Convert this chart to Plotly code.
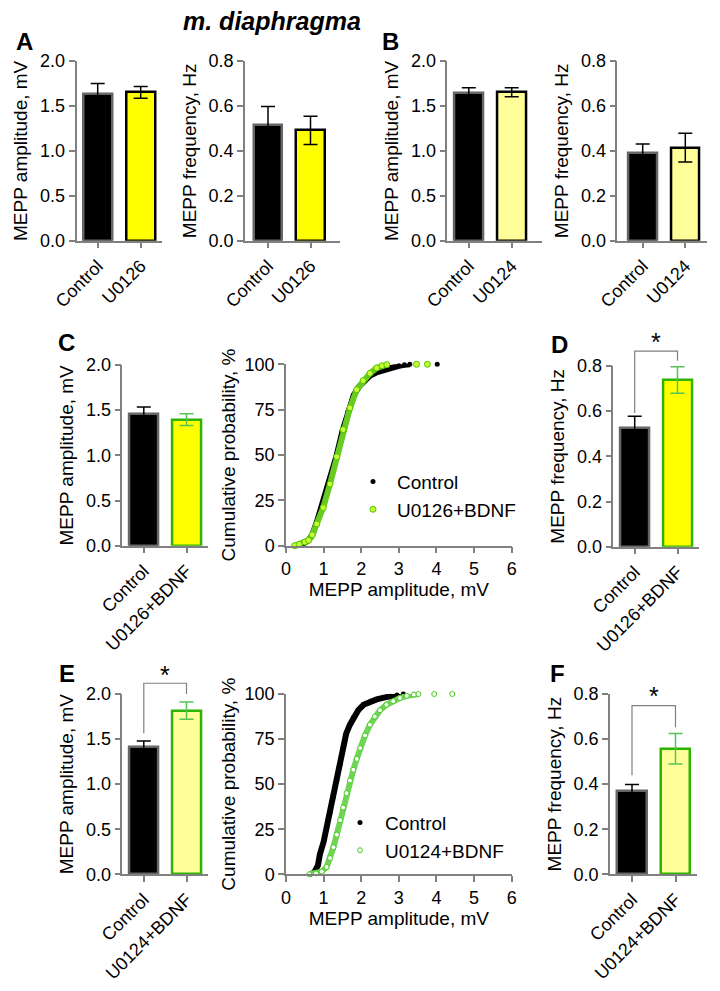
import plotly.graph_objects as go

W, H = 720, 991
OFF = 8  # page body margin in the browser
FONT = "Liberation Sans, Arial, sans-serif"
GRAY = "#808080"
YEL = "#FFFF00"
LYEL = "#FFFF99"
GRN = "#2DB400"
GRN_ERR = "#55C455"

# ---------------- data ----------------
a_groups = ["Control", "U0126"]
a_amp = [1.63, 1.65]
a_amp_err = [0.12, 0.065]
a_freq = [0.517, 0.491]
a_freq_err = [0.080, 0.063]

b_groups = ["Control", "U0124"]
b_amp = [1.648, 1.652]
b_amp_err = [0.055, 0.050]
b_freq = [0.389, 0.414]
b_freq_err = [0.042, 0.064]

c_groups = ["Control", "U0126+BDNF"]
c_amp = [1.461, 1.395]
c_amp_err = [0.074, 0.065]
d_freq = [0.524, 0.738]
d_freq_err = [0.053, 0.059]

e_groups = ["Control", "U0124+BDNF"]
e_amp = [1.415, 1.815]
e_amp_err = [0.064, 0.095]
f_freq = [0.370, 0.557]
f_freq_err = [0.029, 0.068]

# cumulative distributions (MEPP amplitude mV, cumulative %)
c_ctrl_x = [0.30, 0.45, 0.60, 0.70, 0.82, 0.95, 1.10, 1.20, 1.35, 1.50, 1.65, 1.80, 1.95, 2.10, 2.25, 2.40, 2.60, 2.80, 3.00, 3.15, 3.29]
c_ctrl_y = [0, 1, 3, 6, 13, 22, 31, 38, 50, 63, 74, 83, 88, 91.5, 94, 95.5, 97, 98.3, 99.2, 99.7, 100]
c_ctrl_out_x = [4.02]
c_ctrl_out_y = [100]
c_trt_x = [0.23, 0.35, 0.50, 0.60, 0.70, 0.82, 0.99, 1.17, 1.35, 1.52, 1.70, 1.88, 2.05, 2.23, 2.41, 2.55, 2.68]
c_trt_y = [0, 0.8, 2, 3, 6, 12, 21, 34, 49, 64, 76, 86, 91, 95, 98, 99.2, 99.8]
c_trt_out_x = [3.47, 3.76]
c_trt_out_y = [100, 100]

e_ctrl_x = [0.65, 0.75, 0.85, 0.90, 1.00, 1.08, 1.17, 1.26, 1.35, 1.44, 1.52, 1.60, 1.70, 1.79, 1.92, 2.06, 2.25, 2.41, 2.60, 2.77, 2.95, 3.12]
e_ctrl_y = [0, 1, 5, 11, 18, 26, 34, 43, 52, 61, 70, 78, 83, 87, 91, 94, 96, 97, 98, 98.7, 99.4, 100]
e_trt_x = [0.62, 0.80, 0.95, 1.08, 1.17, 1.26, 1.35, 1.44, 1.52, 1.61, 1.70, 1.79, 1.88, 1.97, 2.10, 2.23, 2.36, 2.50, 2.67, 2.85, 3.03, 3.21, 3.40, 3.52]
e_trt_y = [0, 0.5, 1.5, 4, 9, 15, 22, 30, 37, 45, 52, 58, 64, 70, 77, 83, 87.5, 91, 94, 96, 97.8, 99, 99.7, 100]
e_trt_out_x = [3.94, 4.42]
e_trt_out_y = [100, 100]

cum_xticks = [0, 1, 2, 3, 4, 5, 6]
cum_yticks = [0, 25, 50, 75, 100]

# significance brackets: [left leg bottom, top, right leg bottom, star y]
d_bracket = [0.592, 0.866, 0.823, 0.905]
e_bracket = [1.564, 2.119, 2.0, 2.21]
f_bracket = [0.44, 0.748, 0.652, 0.79]

# ---------------- layout helpers (page pixels -> paper fractions) ----------------
def fx(px):
    return (px - OFF) / W

def fy(py):
    return 1 - (py - OFF) / H

def dom_x(p0, p1):
    return [fx(p0), fx(p1)]

def dom_y(ptop, pbot):
    return [fy(pbot), fy(ptop)]

def cat_range(xs, xe, c0, c1):
    u = c1 - c0
    return [(xs - c0) / u, 1 + (xe - c1) / u]

fig = go.Figure()
layout = dict(
    width=W, height=H, autosize=False,
    margin=dict(l=0, r=0, t=0, b=0, pad=0, autoexpand=False),
    paper_bgcolor="white", plot_bgcolor="white",
    font=dict(family=FONT, size=18, color="black"),
    showlegend=True,
    bargap=0,
)

axis_common = dict(showline=True, linecolor=GRAY, linewidth=1.5, ticks="outside",
                   tickcolor=GRAY, ticklen=6, tickwidth=1.5, showgrid=False,
                   zeroline=False, automargin=False, tickfont=dict(size=18, family=FONT))

bar_panels = [
    dict(n=1, cats=a_groups, vals=a_amp, errs=a_amp_err, ymax=2.0, dtick=0.5,
         title="MEPP amplitude, mV", fill=["#000000", YEL], line=["#666666", "#000000"],
         ecol=["#000000", "#000000"], box=(76.5, 162, 97.7, 140.7, 61, 240.7)),
    dict(n=2, cats=a_groups, vals=a_freq, errs=a_freq_err, ymax=0.8, dtick=0.2,
         title="MEPP frequency, Hz", fill=["#000000", YEL], line=["#666666", "#000000"],
         ecol=["#000000", "#000000"], box=(245, 340, 268, 310.5, 61, 240.7)),
    dict(n=3, cats=b_groups, vals=b_amp, errs=b_amp_err, ymax=2.0, dtick=0.5,
         title="MEPP amplitude, mV", fill=["#000000", LYEL], line=["#666666", "#000000"],
         ecol=["#000000", "#000000"], box=(447.3, 541.7, 468.8, 511.7, 61, 240.7)),
    dict(n=4, cats=b_groups, vals=b_freq, errs=b_freq_err, ymax=0.8, dtick=0.2,
         title="MEPP frequency, Hz", fill=["#000000", LYEL], line=["#666666", "#000000"],
         ecol=["#000000", "#000000"], box=(617.3, 706.7, 642.7, 685.3, 61, 240.7)),
    dict(n=5, cats=c_groups, vals=c_amp, errs=c_amp_err, ymax=2.0, dtick=0.5,
         title="MEPP amplitude, mV", fill=["#000000", YEL], line=["#666666", GRN],
         ecol=["#000000", GRN_ERR], box=(122.3, 208.3, 143.8, 186.5, 365, 545.7)),
    dict(n=7, cats=c_groups, vals=d_freq, errs=d_freq_err, ymax=0.8, dtick=0.2,
         title="MEPP frequency, Hz", fill=["#000000", YEL], line=["#666666", GRN],
         ecol=["#000000", GRN_ERR], box=(613.3, 699, 634.7, 677.5, 366, 546.7),
         bracket=d_bracket),
    dict(n=8, cats=e_groups, vals=e_amp, errs=e_amp_err, ymax=2.0, dtick=0.5,
         title="MEPP amplitude, mV", fill=["#000000", LYEL], line=["#666666", GRN],
         ecol=["#000000", GRN_ERR], box=(122.3, 208.3, 143.8, 186.5, 694, 874.3),
         bracket=e_bracket),
    dict(n=10, cats=e_groups, vals=f_freq, errs=f_freq_err, ymax=0.8, dtick=0.2,
         title="MEPP frequency, Hz", fill=["#000000", LYEL], line=["#666666", GRN],
         ecol=["#000000", GRN_ERR], box=(610, 696.7, 632, 675.5, 694, 874.3),
         bracket=f_bracket),
]

shapes = []
annotations = []

for p in bar_panels:
    n = p["n"]
    xs, xe, c0, c1, yt, yb = p["box"]
    xname, yname = f"x{n}", f"y{n}"
    rng = cat_range(xs, xe, c0, c1)
    for i in range(2):
        fig.add_trace(go.Bar(
            x=[p["cats"][i]], y=[p["vals"][i]], xaxis=xname, yaxis=yname,
            width=0.68, showlegend=False,
            marker=dict(color=p["fill"][i], line=dict(color=p["line"][i], width=2.5)),
            error_y=dict(type="data", array=[p["errs"][i]], color=p["ecol"][i],
                         thickness=1.5, width=7),
        ))
    layout[f"xaxis{n}"] = dict(axis_common, domain=dom_x(xs, xe), anchor=yname,
                               type="category", categoryorder="array", categoryarray=p["cats"],
                               range=rng, tickangle=-45)
    layout[f"yaxis{n}"] = dict(axis_common, domain=dom_y(yt, yb), anchor=xname,
                               range=[0, p["ymax"]], dtick=p["dtick"], tickformat=".1f",
                               title=dict(text=p["title"], font=dict(size=19), standoff=7))
    if "bracket" in p:
        lb, top, rb, sy = p["bracket"]
        fx0 = (0 - rng[0]) / (rng[1] - rng[0])
        fx1 = (1 - rng[0]) / (rng[1] - rng[0])
        ym = p["ymax"]
        shapes.append(dict(type="path", xref=f"x{n} domain", yref=f"y{n} domain",
                           path=f"M{fx0},{lb/ym} L{fx0},{top/ym} L{fx1},{top/ym} L{fx1},{rb/ym}",
                           line=dict(color=GRAY, width=1.2)))
        annotations.append(dict(xref=f"x{n} domain", yref=f"y{n} domain", x=(fx0 + fx1) / 2,
                                y=sy / ym, text="*", showarrow=False,
                                font=dict(size=25, color="black"),
                                xanchor="center", yanchor="middle"))

# cumulative panels
cum_panels = [
    dict(n=6, box=(286, 511.7, 364.3, 545.7), legend="legend",
         ctrl=(c_ctrl_x, c_ctrl_y, c_ctrl_out_x, c_ctrl_out_y),
         trt=(c_trt_x, c_trt_y, c_trt_out_x, c_trt_out_y), name="U0126+BDNF",
         trt_marker=dict(color="#C8FF32", size=6, line=dict(color="#4CC300", width=1)),
         trt_line="#66CC22"),
    dict(n=9, box=(286, 511.7, 694, 874.3), legend="legend2",
         ctrl=(e_ctrl_x, e_ctrl_y, [], []),
         trt=(e_trt_x, e_trt_y, e_trt_out_x, e_trt_out_y), name="U0124+BDNF",
         trt_marker=dict(color="white", size=5, line=dict(color="#44CC22", width=1)),
         trt_line="#70D455"),
]

for p in cum_panels:
    n = p["n"]
    xs, xe, yt, yb = p["box"]
    xname, yname = f"x{n}", f"y{n}"
    cx, cy, cox, coy = p["ctrl"]
    tx, ty, tox, toy = p["trt"]
    fig.add_trace(go.Scatter(x=cx, y=cy, xaxis=xname, yaxis=yname, mode="lines",
                             line=dict(color="black", width=6), showlegend=False,
                             cliponaxis=False))
    fig.add_trace(go.Scatter(x=cx + cox, y=cy + coy, xaxis=xname, yaxis=yname, mode="markers",
                             marker=dict(color="black", size=5), name="Control",
                             legend=p["legend"], cliponaxis=False))
    fig.add_trace(go.Scatter(x=tx, y=ty, xaxis=xname, yaxis=yname, mode="lines",
                             line=dict(color=p["trt_line"], width=6), showlegend=False,
                             cliponaxis=False))
    fig.add_trace(go.Scatter(x=tx + tox, y=ty + toy, xaxis=xname, yaxis=yname, mode="markers",
                             marker=p["trt_marker"], name=p["name"],
                             legend=p["legend"], cliponaxis=False))
    layout[f"xaxis{n}"] = dict(axis_common, domain=dom_x(xs, xe), anchor=yname,
                               range=[0, 6], tickvals=cum_xticks,
                               title=dict(text="MEPP amplitude, mV", font=dict(size=19), standoff=4))
    layout[f"yaxis{n}"] = dict(axis_common, domain=dom_y(yt, yb), anchor=xname,
                               range=[0, 100], tickvals=cum_yticks,
                               title=dict(text="Cumulative probability, %", font=dict(size=19), standoff=4))

layout["legend"] = dict(x=fx(349), y=fy(462.7), xanchor="left", yanchor="top",
                        bgcolor="rgba(0,0,0,0)", font=dict(size=19, family=FONT),
                        itemsizing="trace", itemwidth=38)
layout["legend2"] = dict(x=fx(335), y=fy(803.7), xanchor="left", yanchor="top",
                         bgcolor="rgba(0,0,0,0)", font=dict(size=19, family=FONT),
                         itemsizing="trace", itemwidth=40)

# panel letters and title
letters = [("A", 24, 41), ("B", 390, 41), ("C", 66, 342), ("D", 559, 344), ("E", 67, 673), ("F", 557, 673)]
for t, px, py in letters:
    annotations.append(dict(xref="paper", yref="paper", x=fx(px), y=fy(py), text=f"<b>{t}</b>",
                            showarrow=False, font=dict(size=24, color="black"),
                            xanchor="center", yanchor="middle"))
annotations.append(dict(xref="paper", yref="paper", x=fx(272), y=fy(21),
                        text="<b><i>m. diaphragma</i></b>", showarrow=False,
                        font=dict(size=25, color="black"), xanchor="center", yanchor="middle"))

layout["shapes"] = shapes
layout["annotations"] = annotations
fig.update_layout(**layout)
fig.write_html("out.html")
